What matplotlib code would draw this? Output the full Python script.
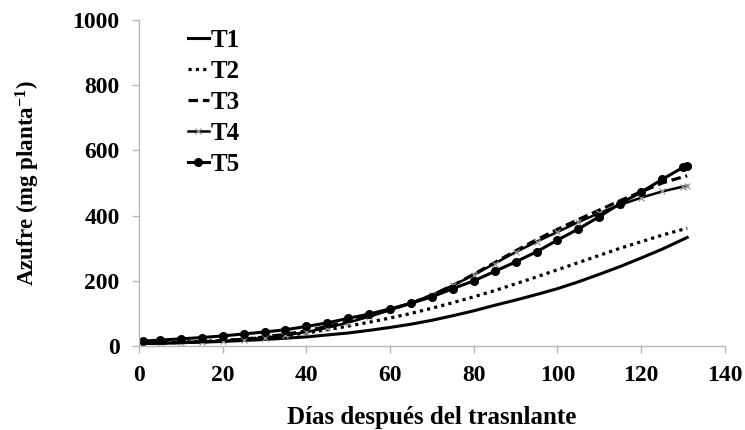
import matplotlib
matplotlib.use("Agg")
import matplotlib.pyplot as plt

plt.rcParams['font.family'] = ['Liberation Serif', 'DejaVu Serif']
plt.rcParams['font.weight'] = 'bold'
plt.rcParams['mathtext.fontset'] = 'custom'
plt.rcParams['mathtext.rm'] = 'Liberation Serif:bold'
plt.rcParams['mathtext.bf'] = 'Liberation Serif:bold'
plt.rcParams['mathtext.default'] = 'bf'

# --- datos ---
dias = [1, 5, 10, 15, 20, 25, 30, 35, 40, 45, 50, 55, 60, 65, 70,
        75, 80, 85, 90, 95, 100, 105, 110, 115, 120, 125, 130, 131]

t1 = [8, 9, 10, 12, 14, 17, 20, 24, 28, 34, 40, 48, 57, 67, 79,
      93, 108, 125, 141, 158, 176, 197, 220, 244, 270, 297, 327, 333]
t2 = [9, 10, 12, 14, 17, 21, 26, 32, 40, 50, 61, 73, 86, 100, 116,
      133, 151, 170, 191, 212, 234, 256, 278, 300, 320, 340, 358, 361]
t3 = [8, 9, 11, 13, 16, 21, 28, 36, 47, 60, 76, 93, 112, 131, 156,
      186, 220, 256, 292, 326, 358, 388, 417, 446, 473, 500, 519, 522]
t4 = [7, 8, 10, 12, 15, 19, 25, 33, 43, 56, 72, 90, 110, 132, 157,
      186, 218, 253, 288, 320, 350, 380, 408, 433, 455, 474, 489, 491]
t5 = [15, 18, 22, 26, 31, 37, 43, 50, 60, 71, 85, 98, 114, 131, 151,
      176, 200, 229, 258, 289, 325, 359, 397, 437, 472, 511, 548, 553]

fig = plt.figure(figsize=(7.45, 4.30), dpi=100)
ax = fig.add_axes([0.1866, 0.1953, 0.7864, 0.7582])

ax.plot(dias, t1, color='black', lw=2.2, label='T1')
ax.plot(dias, t2, color='black', lw=2.3, linestyle=(0, (1, 1.3)), label='T2')
ax.plot(dias, t3, color='black', lw=2.3, linestyle=(0, (3, 1.5)), label='T3')
ax.plot(dias, t4, color='black', lw=1.8, marker='x', markersize=5,
        markeredgecolor='#999999', markeredgewidth=0.9, label='T4')
ax.plot(dias, t5, color='black', lw=2.2, marker='o', markersize=5.5, label='T5')

ax.set_xlim(0, 140)
ax.set_ylim(0, 1000)
ax.set_xticks(range(0, 141, 20))
ax.set_yticks(range(0, 1001, 200))

for s in ['top', 'right']:
    ax.spines[s].set_visible(False)
for s in ['left', 'bottom']:
    ax.spines[s].set_color('#b8b8b8')
    ax.spines[s].set_linewidth(1.0)
ax.tick_params(axis='both', colors='#b8b8b8', length=5, width=1.0,
               labelcolor='black', labelsize=17)
ax.tick_params(axis='x', pad=9)
ax.tick_params(axis='y', pad=9)
for lab in ax.get_xticklabels() + ax.get_yticklabels():
    lab.set_fontweight('bold')

ax.set_xlabel('Días después del trasnlante', fontsize=18, fontweight='bold', labelpad=14)
ax.set_ylabel('Azufre (mg planta$^{-1}$)', fontsize=16.5, fontweight='bold', labelpad=22)

leg = ax.legend(loc='upper left', bbox_to_anchor=(0.066, 1.004), frameon=False,
                prop={'size': 18, 'weight': 'bold'}, handlelength=0.85,
                handletextpad=0.05, labelspacing=0.32, borderaxespad=0)

fig.savefig('out.png', dpi=100)
